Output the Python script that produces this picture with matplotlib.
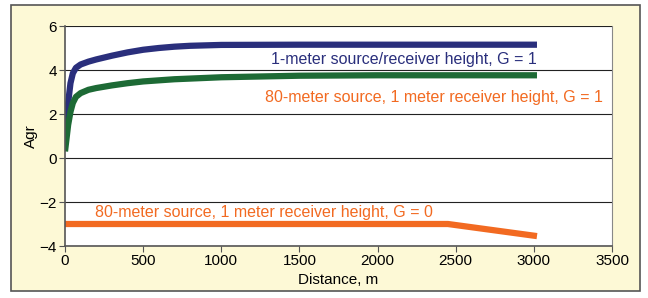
import numpy as np
import matplotlib.pyplot as plt
from matplotlib.patches import Rectangle

plt.rcParams['font.family'] = ['Liberation Sans', 'DejaVu Sans']

# distance (m) and Agr values
dist_blue = [0, 10, 20, 35, 50, 70, 100, 150, 200, 300, 400, 500, 600, 700, 800, 1000, 1500, 2000, 2500, 3020]
agr_blue = [0.7, 1.6, 2.5, 3.4, 3.85, 4.1, 4.25, 4.38, 4.48, 4.65, 4.8, 4.92, 5.0, 5.06, 5.1, 5.14, 5.15, 5.15, 5.15, 5.15]

dist_green = [0, 10, 20, 35, 50, 70, 100, 150, 200, 300, 400, 500, 700, 1000, 1500, 2000, 2500, 3020]
agr_green = [0.3, 0.9, 1.5, 2.1, 2.5, 2.78, 2.95, 3.1, 3.18, 3.3, 3.4, 3.48, 3.58, 3.67, 3.74, 3.76, 3.76, 3.76]

dist_orange = [0, 2450, 3020]
agr_orange = [-3.0, -3.0, -3.55]

navy = '#2a2f7c'
green = '#1d6a35'
orange = '#f26a21'
bg = '#fdf9d6'

fig = plt.figure(figsize=(6.48, 2.98), dpi=100)
fig.patch.set_facecolor('white')
fig.patches.append(Rectangle((11/648, 1 - 291/298), 629/648, 286/298, transform=fig.transFigure,
                             facecolor=bg, edgecolor='#555555', linewidth=1.2, zorder=-1))

ax = fig.add_axes([65/648, 1 - 246/298, 547/648, 220/298])
ax.set_facecolor('white')

ax.plot(dist_blue, agr_blue, color=navy, lw=4.5, solid_capstyle='butt')
ax.plot(dist_green, agr_green, color=green, lw=4.5, solid_capstyle='butt')
ax.plot(dist_orange, agr_orange, color=orange, lw=4.5, solid_capstyle='butt')

ax.set_xlim(0, 3500)
ax.set_ylim(-4, 6)
ax.set_xticks(np.arange(0, 3501, 500))
ax.set_yticks(np.arange(-4, 7, 2))
ax.set_yticklabels(['\u22124', '\u22122', '0', '2', '4', '6'])
ax.grid(axis='y', color='#222222', lw=0.8)
ax.set_axisbelow(True)
ax.tick_params(labelsize=11, direction='out', length=4, color='#555555', pad=2)
for s in ['left', 'bottom']:
    ax.spines[s].set_color('#555555')
    ax.spines[s].set_linewidth(1.2)
ax.spines['right'].set_color('#888888')
ax.spines['top'].set_visible(False)

ax.set_xlabel('Distance, m', fontsize=11, labelpad=3)
ax.set_ylabel('Agr', fontsize=11, labelpad=1)

ax.text(3020, 4.27, '1-meter source/receiver height, G = 1', color=navy, fontsize=11.5, ha='right', va='baseline')
ax.text(3442, 2.56, '80-meter source, 1 meter receiver height, G = 1', color=orange, fontsize=11.5, ha='right', va='baseline')
ax.text(195, -2.68, '80-meter source, 1 meter receiver height, G = 0', color=orange, fontsize=11.5, ha='left', va='baseline')

fig.savefig('out.png', dpi=100)
